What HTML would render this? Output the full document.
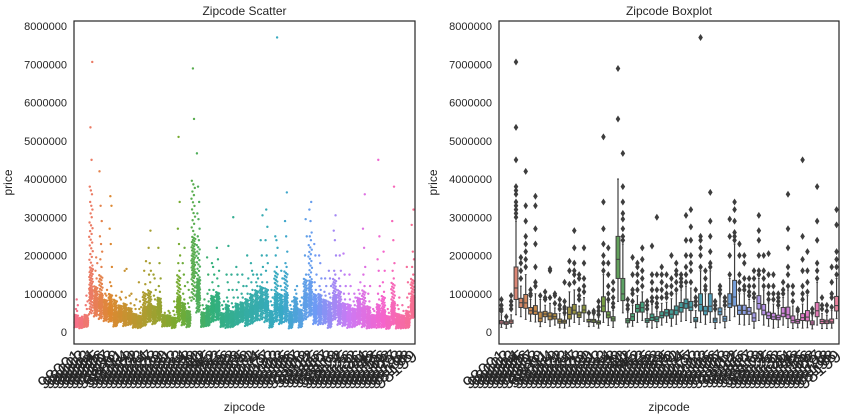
<!DOCTYPE html>
<html><head><meta charset="utf-8"><style>
body{margin:0;background:#fff;}
svg{display:block;font-family:"Liberation Sans","DejaVu Sans",sans-serif;}
</style></head><body>
<svg id="fig" width="852" height="420" viewBox="0 0 852 420"></svg>
<script>
const zipcodes=[98001,98002,98003,98004,98005,98006,98007,98008,98010,98011,98014,98019,98022,98023,98024,98027,98028,98029,98030,98031,98032,98033,98034,98038,98039,98040,98042,98045,98052,98053,98055,98056,98058,98059,98065,98070,98072,98074,98075,98077,98092,98102,98103,98105,98106,98107,98108,98109,98112,98115,98116,98117,98118,98119,98122,98125,98126,98133,98136,98144,98146,98148,98155,98166,98168,98177,98178,98188,98198,98199];
// prices in thousands
const lowWhisker=[120,95,130,450,400,330,280,260,140,250,150,180,110,100,150,250,200,280,140,150,100,250,170,120,800,500,130,150,250,300,130,100,120,180,250,150,200,280,300,250,110,250,200,250,90,240,110,300,400,200,180,200,100,300,180,150,100,120,180,120,90,110,100,110,80,180,90,90,100,350];
const q1=[215,200,225,850,640,620,470,460,270,400,320,340,230,230,340,470,380,500,260,250,210,530,370,290,1400,820,240,300,520,520,250,300,270,370,420,360,450,520,620,560,270,550,450,530,250,450,280,640,680,460,460,460,280,600,450,350,330,320,400,350,240,230,300,290,190,400,220,220,230,550];
const median=[260,235,267,1150,765,760,555,545,360,470,415,400,280,268,460,570,445,575,280,290,250,680,445,342,1900,995,293,400,615,635,295,380,335,435,500,465,570,640,740,650,310,720,550,675,315,530,342,735,915,567,565,544,368,745,570,425,395,375,490,450,305,278,375,390,235,555,278,265,265,690];
const q3=[300,270,310,1700,880,980,640,690,520,540,500,480,340,310,650,720,520,700,330,330,290,920,530,400,2500,1400,350,480,720,780,350,470,400,530,590,580,680,770,860,800,380,1000,670,1000,360,630,410,1000,1350,700,700,640,500,950,720,520,490,440,640,650,420,330,480,560,290,770,330,310,340,930];
const highWhisker=[450,370,450,2900,1200,1500,850,1000,850,700,750,630,480,430,1050,1100,680,900,450,440,380,1500,770,560,4000,2300,520,700,950,1050,500,720,550,750,780,870,1000,1100,1200,1150,560,1600,1000,1600,540,920,600,1400,2300,1000,1000,850,800,1400,1100,760,730,620,900,1100,680,450,730,950,420,1300,480,440,560,1400];
const outliers=[[550,600,700,850],[400],[600,700,800,950],[3000,3100,3200,3300,3400,3600,3700,3800,4500,5350,7060],[1400,1600,1800,1950],[1700,1900,2100,2300,2500,2900,3300,4200],[950,1000,1100],[1200,1300,1700,2300,2700,3300,3550],[950],[850,900,1050],[900,1600,1650],[750,950,1000],[600,700,850],[500,600,650,800,1300],[1250,1600,1850],[1300,1500,1600,1800,2200,2650],[850,950,1100,1400,1500],[1050,1200,1400,1800,2200],[500],[500,550],[450,550,650,800],[1600,1800,2000,2300,2700,3400,5100],[850,1000,1200,1500,1800,2200],[650,750,900,1100,1300],[5570,6890],[2400,2500,2700,2950,3100,3400,3800,4670],[600,700,850],[800,1000,1100,1500,1950],[1100,1300,1500,1700,1800],[1200,1400,1600,1900,2200],[600,700,800],[800,900,1100,1300,1500,2250],[650,750,900,1100,1500,3000],[900,1100,1300,1500,1700],[900,1000,1200,1500],[1000,1200,1400,2000],[1100,1300,1500,1600,1800],[1200,1300,1400,1500],[1300,1500,1700,2000,2400,3050],[1300,1600,1800,2000,2400,2750,3200],[700,800,900,1100],[1700,2000,2200,2400,2500,7700],[1100,1200,1400,1600],[1700,1800,2100,2500,2900,3650],[600,700,800],[1000,1100,1200],[700,800,900],[1500,2000,2500,2950],[2400,2500,2600,2900,3200,3400],[1100,1300,1500,2000,2300],[1100,1200,1400,1800,2000],[950,1050,1200,1400],[900,1000,1200,1400,1600],[1500,1600,2000,2400,2650,3050],[1200,1400,1600,2000],[850,1000,1200,1500,2050],[850,1000,1200,1500],[700,800,900,1000],[1000,1100,1300],[1200,1500,1700,2200,2700,3600],[800,1000,1200],[550,600],[850,1000,1200,1600,1900,2500,4500],[1050,1300,1600,2100],[500,600],[1400,1600,1800,2400,2900,3800],[600,700,900],[550,700],[650,900,1000,1300,1700],[1500,1700,1900,2100,2800,3200]];
const yTicks=[0,1000000,2000000,3000000,4000000,5000000,6000000,7000000,8000000];

const NS="http://www.w3.org/2000/svg";
const svg=document.getElementById('fig');
function mk(tag,attrs,parent){const e=document.createElementNS(NS,tag);for(const k in attrs)e.setAttribute(k,attrs[k]);(parent||svg).appendChild(e);return e;}
const anchors=['#f77189','#dc8932','#ae9d31','#77ab31','#33b07a','#36ada4','#38a9c5','#6e9bf4','#cc7af4','#f565cc','#f77189'];
function hx(c){return [1,3,5].map(i=>parseInt(c.substr(i,2),16));}
function color(i,n){const t=i/n*10;const a=Math.floor(t),f=t-a;const c1=hx(anchors[a]),c2=hx(anchors[a+1]);return c1.map((v,k)=>Math.round(v+(c2[k]-v)*f));}
function desat(rgb){let [r,g,b]=rgb.map(v=>v/255);const mx=Math.max(r,g,b),mn=Math.min(r,g,b);let l=(mx+mn)/2,s=0,h=0;const d=mx-mn;
 if(d>0){s=l>0.5?d/(2-mx-mn):d/(mx+mn);if(mx===r)h=((g-b)/d+(g<b?6:0));else if(mx===g)h=(b-r)/d+2;else h=(r-g)/d+4;h/=6;}
 s*=0.75;return `hsl(${h*360},${s*100}%,${l*100}%)`;}
const N=zipcodes.length;

function drawAxes(name,x0,x1,title){
 const top=21,bot=344;
 const y=v=>332-v/1e6*38.25;
 const bw=(x1-x0)/N;
 const cx=i=>x0+(i+0.5)*bw;
 const g=mk('g',{});
 const t=mk('text',{x:(x0+x1)/2,y:15,'text-anchor':'middle','font-size':12,fill:'#262626'},g);t.textContent=title;
 
 yTicks.forEach(v=>{const tx=mk('text',{x:x0-7,y:y(v)+4,'text-anchor':'end','font-size':11,fill:'#262626'},g);tx.textContent=v;
  });
 const yl=mk('text',{transform:`translate(${x0-62},${(top+bot)/2}) rotate(-90)`,'text-anchor':'middle','font-size':12,fill:'#262626'},g);yl.textContent='price';
 
 const xl=mk('text',{x:(x0+x1)/2,y:411,'text-anchor':'middle','font-size':12,fill:'#262626'},g);xl.textContent='zipcode';
 
 zipcodes.forEach((z,i)=>{const tx=mk('text',{transform:`translate(${cx(i)+6},${358}) rotate(-40)`,'text-anchor':'end','font-size':18,fill:'#262626'},g);tx.textContent=z;
  });
 return {g,y,cx,bw,x0,x1,top,bot};
}

// Scatter
const A=drawAxes('zipcode-scatter',74,415,'Zipcode Scatter');
zipcodes.forEach((z,i)=>{
 const rgb=color(i,N);const col=`rgb(${rgb.join(',')})`;
 const g=mk('g',{fill:col},A.g);
 const segs=[[lowWhisker[i],q1[i],14],[q1[i],median[i],22],[median[i],q3[i],22],[q3[i],highWhisker[i],16]];
 let k=0;
 segs.forEach(([a,b,n])=>{for(let j=0;j<n;j++){const v=a+(b-a)*(j+0.5)/n;const jit=((k*0.618)%1-0.5)*A.bw*0.8;k++;
  const c=mk('circle',{cx:A.cx(i)+jit,cy:A.y(v*1000),r:1.2},g);}});
 outliers[i].forEach(v=>{const jit=((k*0.618)%1-0.5)*A.bw*0.6;k++;
  const c=mk('circle',{cx:A.cx(i)+jit,cy:A.y(v*1000),r:1.2},g);});
});
mk('rect',{x:74,y:21,width:341,height:323,fill:'none',stroke:'#262626','stroke-width':1.2},A.g);

// Boxplot
const B=drawAxes('zipcode-boxplot',499,839,'Zipcode Boxplot');
zipcodes.forEach((z,i)=>{
 const g=mk('g',{},B.g);
 const c=B.cx(i),w=B.bw*0.8,st='#3f3f3f';
 mk('line',{x1:c,x2:c,y1:B.y(lowWhisker[i]*1000),y2:B.y(q1[i]*1000),stroke:st,'stroke-width':1.2},g);
 mk('line',{x1:c,x2:c,y1:B.y(q3[i]*1000),y2:B.y(highWhisker[i]*1000),stroke:st,'stroke-width':1.2},g);
 mk('line',{x1:c-w/4,x2:c+w/4,y1:B.y(lowWhisker[i]*1000),y2:B.y(lowWhisker[i]*1000),stroke:st},g);
 mk('line',{x1:c-w/4,x2:c+w/4,y1:B.y(highWhisker[i]*1000),y2:B.y(highWhisker[i]*1000),stroke:st},g);
 const r=mk('rect',{x:c-w/2,y:B.y(q3[i]*1000),width:w,height:B.y(q1[i]*1000)-B.y(q3[i]*1000),fill:desat(color(i,N)),stroke:st,'stroke-width':1},g);
 
 mk('line',{x1:c-w/2,x2:c+w/2,y1:B.y(median[i]*1000),y2:B.y(median[i]*1000),stroke:st,'stroke-width':1},g);
 outliers[i].forEach(v=>{const yy=B.y(v*1000);
  const p=mk('path',{d:`M${c},${yy-3.5}L${c+2.3},${yy}L${c},${yy+3.5}L${c-2.3},${yy}Z`,fill:'#3d3d3d'},g);
  });
});
mk('rect',{x:499,y:21,width:340,height:323,fill:'none',stroke:'#262626','stroke-width':1.2},B.g);
</script>
</body></html>
